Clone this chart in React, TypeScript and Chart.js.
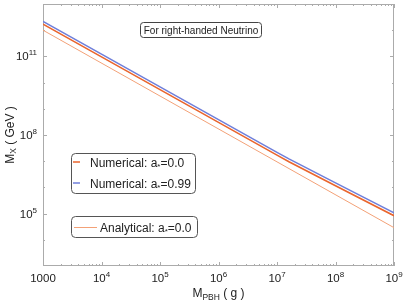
import React, { useEffect, useRef } from "react";
import { Chart, registerables } from "chart.js";

Chart.register(...registerables);

// PBH mass grid (g)
const massGrid = [1e3, 1e4, 1e5, 1e6, 1e7, 1.6e7, 1e8, 1e9];
// Numerical, a* = 0.0  (M_X in GeV)
const mxNumericalA0 = [1.7e12, 9.55e10, 5.37e9, 3.02e8, 1.7e7, 9.55e6, 1.15e6, 8.32e4];
// Numerical, a* = 0.99
const mxNumericalA099 = [2.19e12, 1.23e11, 6.92e9, 3.89e8, 2.19e7, 1.23e7, 1.48e6, 1.07e5];
// Analytical, a* = 0.0
const massAnalytical = [1e3, 1e9];
const mxAnalytical = [1.0e12, 2.9e4];

const xMajorExps = [3, 4, 5, 6, 7, 8, 9];
const yLabelExps = [5, 8, 11];
const yTickExps = [4, 5, 6, 7, 8, 9, 10, 11, 12];

const FONT = "'Liberation Sans', Arial, Helvetica, sans-serif";
const C_ORANGE = "#EA652D";
const C_BLUE = "#6F7FDA";
const C_ANALYTIC = "#F3A177";

type Part = { t: string; s: number; dy: number };

function drawRich(ctx: CanvasRenderingContext2D, parts: Part[], x: number, y: number, align: "left" | "center" | "right") {
  let total = 0;
  const widths = parts.map((p) => {
    ctx.font = `${p.s}px ${FONT}`;
    const w = ctx.measureText(p.t).width;
    total += w;
    return w;
  });
  let cx = align === "left" ? x : align === "center" ? x - total / 2 : x - total;
  ctx.textAlign = "left";
  ctx.textBaseline = "alphabetic";
  parts.forEach((p, i) => {
    ctx.font = `${p.s}px ${FONT}`;
    ctx.fillText(p.t, cx, y + p.dy);
    cx += widths[i];
  });
}

const pts = (xs: number[], ys: number[]) => xs.map((x, i) => ({ x, y: ys[i] }));

const framePlugin = {
  id: "frameDeco",
  beforeDatasetsDraw(chart: any) {
    const { ctx, chartArea: a, scales } = chart;
    const xs = scales.x;
    const ys = scales.y;
    ctx.save();
    ctx.strokeStyle = "#ababab";
    ctx.lineWidth = 1;
    ctx.strokeRect(a.left + 0.5, a.top + 0.5, a.right - a.left - 1, a.bottom - a.top - 1);
    ctx.beginPath();
    // x ticks
    for (let k = 3; k <= 9; k++) {
      for (let m = 1; m <= 9; m++) {
        if (k === 9 && m > 1) break;
        const v = m * Math.pow(10, k);
        const px = Math.round(xs.getPixelForValue(v)) + 0.5;
        const len = m === 1 ? 4 : 2;
        ctx.moveTo(px, a.bottom);
        ctx.lineTo(px, a.bottom - len);
        ctx.moveTo(px, a.top);
        ctx.lineTo(px, a.top + len);
      }
    }
    // y ticks
    yTickExps.forEach((e) => {
      const py = Math.round(ys.getPixelForValue(Math.pow(10, e))) + 0.5;
      const len = yLabelExps.includes(e) ? 4 : 2;
      ctx.moveTo(a.left, py);
      ctx.lineTo(a.left + len, py);
      ctx.moveTo(a.right, py);
      ctx.lineTo(a.right - len, py);
    });
    ctx.stroke();
    ctx.restore();
  },
  afterDraw(chart: any) {
    const { ctx, chartArea: a, scales } = chart;
    const xs = scales.x;
    const ys = scales.y;
    ctx.save();
    ctx.fillStyle = "#222";
    // x tick labels
    xMajorExps.forEach((e) => {
      const px = xs.getPixelForValue(Math.pow(10, e));
      const parts: Part[] =
        e === 3
          ? [{ t: "1000", s: 11.5, dy: 0 }]
          : [
              { t: "10", s: 11.5, dy: 0 },
              { t: String(e), s: 8, dy: -5 },
            ];
      drawRich(ctx, parts, px, a.bottom + 16, "center");
    });
    // y tick labels
    yLabelExps.forEach((e) => {
      const py = ys.getPixelForValue(Math.pow(10, e));
      drawRich(
        ctx,
        [
          { t: "10", s: 11.5, dy: 0 },
          { t: String(e), s: 8, dy: -5 },
        ],
        a.left - 6,
        py + 4,
        "right"
      );
    });
    // axis titles
    drawRich(
      ctx,
      [
        { t: "M", s: 12, dy: 0 },
        { t: "PBH", s: 8.5, dy: 2.5 },
        { t: " ( g )", s: 12, dy: 0 },
      ],
      (a.left + a.right) / 2,
      297,
      "center"
    );
    ctx.save();
    ctx.translate(13.5, (a.top + a.bottom) / 2);
    ctx.rotate(-Math.PI / 2);
    drawRich(
      ctx,
      [
        { t: "M", s: 12, dy: 0 },
        { t: "X", s: 8.5, dy: 2.5 },
        { t: " ( GeV )", s: 12, dy: 0 },
      ],
      0,
      0,
      "center"
    );
    ctx.restore();

    // annotation box
    ctx.strokeStyle = "#444";
    ctx.lineWidth = 1;
    ctx.beginPath();
    ctx.roundRect(140.5, 22.5, 121, 15, 3);
    ctx.fillStyle = "#fff";
    ctx.fill();
    ctx.stroke();
    ctx.fillStyle = "#222";
    drawRich(ctx, [{ t: "For right-handed Neutrino", s: 10, dy: 0 }], 201, 33.5, "center");

    // legend 1
    ctx.strokeStyle = "#555";
    ctx.beginPath();
    ctx.roundRect(71.5, 153.5, 124, 40, 4);
    ctx.fillStyle = "#fff";
    ctx.fill();
    ctx.stroke();
    const rows = [
      { c: C_ORANGE, y: 162, lab: "0.0" },
      { c: C_BLUE, y: 183, lab: "0.99" },
    ];
    rows.forEach((r) => {
      ctx.strokeStyle = r.c;
      ctx.lineWidth = 1.5;
      ctx.beginPath();
      ctx.moveTo(73, r.y);
      ctx.lineTo(80, r.y);
      ctx.stroke();
      ctx.fillStyle = "#222";
      drawRich(
        ctx,
        [
          { t: "Numerical: a", s: 12, dy: 0 },
          { t: "*", s: 8, dy: 2 },
          { t: "=" + r.lab, s: 12, dy: 0 },
        ],
        90,
        r.y + 4.5,
        "left"
      );
    });

    // legend 2
    ctx.strokeStyle = "#555";
    ctx.lineWidth = 1;
    ctx.beginPath();
    ctx.roundRect(71.5, 216.5, 126, 21, 4);
    ctx.fillStyle = "#fff";
    ctx.fill();
    ctx.stroke();
    ctx.strokeStyle = C_ANALYTIC;
    ctx.lineWidth = 1;
    ctx.beginPath();
    ctx.moveTo(74, 227.5);
    ctx.lineTo(97, 227.5);
    ctx.stroke();
    ctx.fillStyle = "#222";
    drawRich(
      ctx,
      [
        { t: "Analytical: a", s: 12, dy: 0 },
        { t: "*", s: 8, dy: 2 },
        { t: "=0.0", s: 12, dy: 0 },
      ],
      100,
      231.5,
      "left"
    );
    ctx.restore();
  },
};

export default function App() {
  const ref = useRef<HTMLCanvasElement>(null);
  useEffect(() => {
    document.body.style.margin = "0";
    const canvas = ref.current!;
    const chart = new Chart(canvas, {
      type: "line",
      data: {
        datasets: [
          {
            label: "Analytical: a*=0.0",
            data: pts(massAnalytical, mxAnalytical),
            borderColor: C_ANALYTIC,
            borderWidth: 1,
            pointRadius: 0,
            tension: 0,
          },
          {
            label: "Numerical: a*=0.0",
            data: pts(massGrid, mxNumericalA0),
            borderColor: C_ORANGE,
            borderWidth: 1.6,
            pointRadius: 0,
            tension: 0,
          },
          {
            label: "Numerical: a*=0.99",
            data: pts(massGrid, mxNumericalA099),
            borderColor: C_BLUE,
            borderWidth: 1.5,
            pointRadius: 0,
            tension: 0,
          },
        ],
      },
      options: {
        animation: false,
        responsive: false,
        devicePixelRatio: 1,
        layout: { padding: { left: 43, right: 9, top: 4, bottom: 37 } },
        plugins: { legend: { display: false }, tooltip: { enabled: false }, title: { display: false } },
        scales: {
          x: { type: "logarithmic", min: 1e3, max: 1e9, display: false },
          y: { type: "logarithmic", min: 1e3, max: 1e13, display: false },
        },
      },
      plugins: [framePlugin],
    });
    return () => chart.destroy();
  }, []);
  return (
    <div style={{ width: 403, height: 303 }}>
      <canvas ref={ref} width={403} height={303} style={{ display: "block" }} />
    </div>
  );
}
